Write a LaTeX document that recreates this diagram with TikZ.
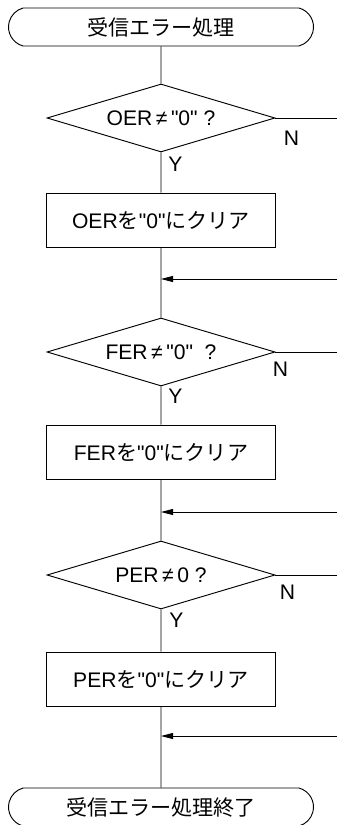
\documentclass[tikz,border=0pt]{standalone}
\usepackage{fontspec}
\setmainfont{Liberation Sans}[Ligatures=TeXOff]
\newfontfamily\jp{Noto Sans CJK JP}
\usetikzlibrary{shapes.geometric,shapes.misc,arrows.meta,positioning,calc}

\begin{document}
\begin{tikzpicture}[x=0.03cm, y=-0.03cm, >={Triangle[length=3.6mm,width=1.8mm]}, line width=0.8pt, font=\fontsize{18}{21}\selectfont]
\tikzstyle{term}=[rounded rectangle, rounded rectangle arc length=150, draw, minimum width=9.15cm, minimum height=1.14cm, inner sep=0pt]
\tikzstyle{decision}=[diamond, aspect=3.35, draw, minimum width=6.84cm, minimum height=2.04cm, inner sep=0pt]
\tikzstyle{proc}=[rectangle, draw, minimum width=6.87cm, minimum height=1.62cm, inner sep=0pt]
\tikzstyle{lbl}=[font=\fontsize{18}{20}\selectfont, inner sep=0pt, anchor=north west]
\useasboundingbox (0,0) rectangle (337,825);
% main column
\node[term]     (start) at (161,27)  {{\jp 受信エラー処理}};
\node[decision] (d1)    at (161,118) {OER\,≠\,"0" ?};
\node[proc]     (b1)    at (161,220) {OER{\jp を}"0"{\jp にクリア}};
\coordinate     (j1)    at (161,279);
\node[decision] (d2)    at (161,352) {FER\,≠\,"0"\ \ ?};
\node[proc]     (b2)    at (161,452) {FER{\jp を}"0"{\jp にクリア}};
\coordinate     (j2)    at (161,512);
\node[decision] (d3)    at (161,575) {PER\,≠\,0 ?};
\node[proc]     (b3)    at (161,679) {PER{\jp を}"0"{\jp にクリア}};
\coordinate     (j3)    at (161,736);
\node[term]     (stop)  at (161,807) {{\jp 受信エラー処理終了}};
% free ends at the right edge
\coordinate (n1) at (337,118);
\coordinate (n2) at (337,352);
\coordinate (n3) at (337,575);
\coordinate (r1) at (337,279);
\coordinate (r2) at (337,512);
\coordinate (r3) at (337,736);
\draw (start) -- (d1) -- (b1) -- (j1) -- (d2) -- (b2) -- (j2) -- (d3) -- (b3) -- (j3) -- (stop);
\draw (d1.east) -- (n1);
\draw (d2.east) -- (n2);
\draw (d3.east) -- (n3);
\draw[->] (r1) -- (j1);
\draw[->] (r2) -- (j2);
\draw[->] (r3) -- (j3);
% labels
\node[lbl] (N1) at ([shift={(8,13)}]d1.east)  {N};
\node[lbl] (N2) at ([shift={(-3,10)}]d2.east) {N};
\node[lbl] (N3) at ([shift={(4,10)}]d3.east)  {N};
\node[lbl] (Y1) at ([shift={(7,4)}]d1.south)  {Y};
\node[lbl] (Y2) at ([shift={(7,2)}]d2.south)  {Y};
\node[lbl] (Y3) at ([shift={(8,3)}]d3.south)  {Y};
\end{tikzpicture}
\end{document}
